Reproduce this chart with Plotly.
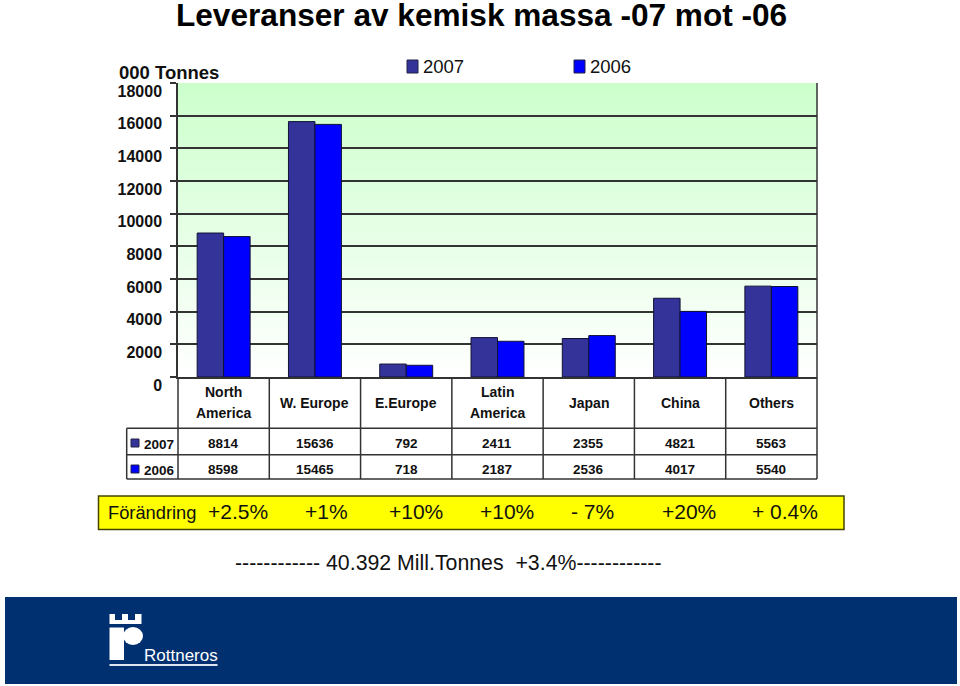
import plotly.graph_objects as go

categories = ["North America", "W. Europe", "E.Europe", "Latin America", "Japan", "China", "Others"]
values_2007 = [8814, 15636, 792, 2411, 2355, 4821, 5563]
values_2006 = [8598, 15465, 718, 2187, 2536, 4017, 5540]
change_labels = ["+2.5%", "+1%", "+10%", "+10%", "- 7%", "+20%", "+ 0.4%"]
change_x = [237, 325, 415, 506, 591, 688, 784]
y_ticks = list(range(0, 18001, 2000))

W, H = 960, 686
L, R, T, B = 178, 817, 83, 377
FONT = "Liberation Sans"
INK = "#333333"
C07, C06 = "#333399", "#0000FF"


def px(x):
    return x / W


def py(y):
    return 1 - y / H


shapes, notes = [], []


def rect(x0, y0, x1, y1, fill="rgba(0,0,0,0)", line=None, width=1.3, layer="above"):
    shapes.append(dict(type="rect", xref="paper", yref="paper", x0=px(x0), x1=px(x1), y0=py(y0), y1=py(y1),
                       fillcolor=fill, line=dict(color=line or fill, width=width if line else 0), layer=layer))


def seg(x0, y0, x1, y1, color=INK, width=1.5):
    shapes.append(dict(type="line", xref="paper", yref="paper", x0=px(x0), x1=px(x1), y0=py(y0), y1=py(y1),
                       line=dict(color=color, width=width)))


def text(x, y, s, size=14, bold=False, color="#111111", anchor="center", family=FONT):
    notes.append(dict(xref="paper", yref="paper", x=px(x), y=py(y), text=f"<b>{s}</b>" if bold else s,
                      showarrow=False, xanchor=anchor, yanchor="middle", align="center",
                      font=dict(family=family, size=size, color=color)))


# plot background gradient: pale green at the top fading to white
STEPS = 98
for i in range(STEPS):
    t = i / (STEPS - 1)
    r = round(204 + 51 * t)
    rect(L, T + (B - T) * i / STEPS, R, T + (B - T) * (i + 1) / STEPS + 0.5, fill=f"rgb({r},255,{r})", layer="below")

fig = go.Figure()
fig.add_bar(x=categories, y=values_2007, name="2007", marker=dict(color=C07, line=dict(color="#111133", width=1)))
fig.add_bar(x=categories, y=values_2006, name="2006", marker=dict(color=C06, line=dict(color="#111133", width=1)))

# table
CW = (R - L) / len(categories)
ROWS = [428.3, 454.7, 479]
LEFT = 126.7
for y in ROWS:
    seg(LEFT, y, R, y)
seg(LEFT, ROWS[0], LEFT, ROWS[2])
seg(L, B, L, ROWS[2])
seg(R, T, R, ROWS[2])
for i in range(1, len(categories)):
    seg(L + CW * i, B, L + CW * i, ROWS[2])

for i, c in enumerate(categories):
    cx = L + CW * (i + 0.5)
    parts = c.split(" ")
    if c in ("North America", "Latin America"):
        text(cx, 392, parts[0], 14, True)
        text(cx, 413, parts[1], 14, True)
    else:
        text(cx, 402.5, c, 14, True)
    text(cx, 443, values_2007[i], 13.5, True)
    text(cx, 469, values_2006[i], 13.5, True)

rect(131, 439, 139, 447, fill=C07, line="#222244", width=1)
rect(131, 465, 139, 473, fill=C06, line="#222244", width=1)
text(159, 444, "2007", 13.5, True)
text(159, 470, "2006", 13.5, True)

# legend
rect(407, 60, 418, 73, fill=C07, line="#222244", width=1)
rect(574, 60, 585, 73, fill=C06, line="#222244", width=1)
text(421, 66, "2007", 18.5, anchor="left")
text(588, 66, "2006", 18.5, anchor="left")

# titles
text(481, 15, "Leveranser av kemisk massa -07 mot -06", 31.6, True, "#000000")
text(168.5, 72, "000 Tonnes", 18.5, True)

# yellow change box
rect(98.5, 496, 844, 529.5, fill="#FFFF00", line="#444400", width=1.5)
text(106, 512, "Förändring", 18.3, anchor="left")
for x, s in zip(change_x, change_labels):
    text(x + 1, 511, s, 21)
text(448.5, 563, "------------ 40.392 Mill.Tonnes&#160;&#160;+3.4%------------", 21.3)

# footer with logo
BLUE = "#003070"
rect(5, 597, 957, 684, fill=BLUE)
rect(109.5, 614, 141.5, 624, fill="white")
for x0, x1 in [(115, 122), (128, 135)]:
    rect(x0, 614, x1, 620, fill=BLUE)
rect(109.5, 627.5, 124, 660, fill="white")
shapes.append(dict(type="circle", xref="paper", yref="paper", x0=px(123), x1=px(143), y0=py(627), y1=py(645),
                   fillcolor="white", line=dict(width=0)))
rect(109.5, 664, 217.5, 666, fill="#DDE6F0")
text(180.5, 655.5, "Rottneros", 17, color="white")

fig.update_layout(
    width=W, height=H, autosize=False,
    margin=dict(l=0, r=0, t=0, b=0, autoexpand=False),
    paper_bgcolor="white", plot_bgcolor="rgba(0,0,0,0)",
    showlegend=False,
    barmode="group", bargap=0.42, bargroupgap=0,
    shapes=shapes, annotations=notes,
    font=dict(family=FONT, color="#111111"),
    xaxis=dict(domain=[px(L), px(R)], showticklabels=False, ticks="", showgrid=False, zeroline=False,
               showline=True, linecolor=INK, linewidth=1.5, mirror=False),
    yaxis=dict(domain=[py(B), py(T)], range=[0, 18000], tickvals=y_ticks,
               ticktext=[f"<b>{v}</b>" for v in y_ticks],
               ticks="outside", ticklen=6, tickcolor=INK, tickwidth=1.5, showgrid=True, gridcolor=INK, gridwidth=1.5,
               zeroline=False, showline=True, linecolor=INK, linewidth=1.5,
               tickfont=dict(family=FONT, size=16, color="#111111"), ticklabelshift=8, ticklabelstandoff=5),
)
fig.write_html("out.html", config=dict(displayModeBar=False),
               post_script="document.body.style.margin='0';document.documentElement.style.overflow='hidden';")
